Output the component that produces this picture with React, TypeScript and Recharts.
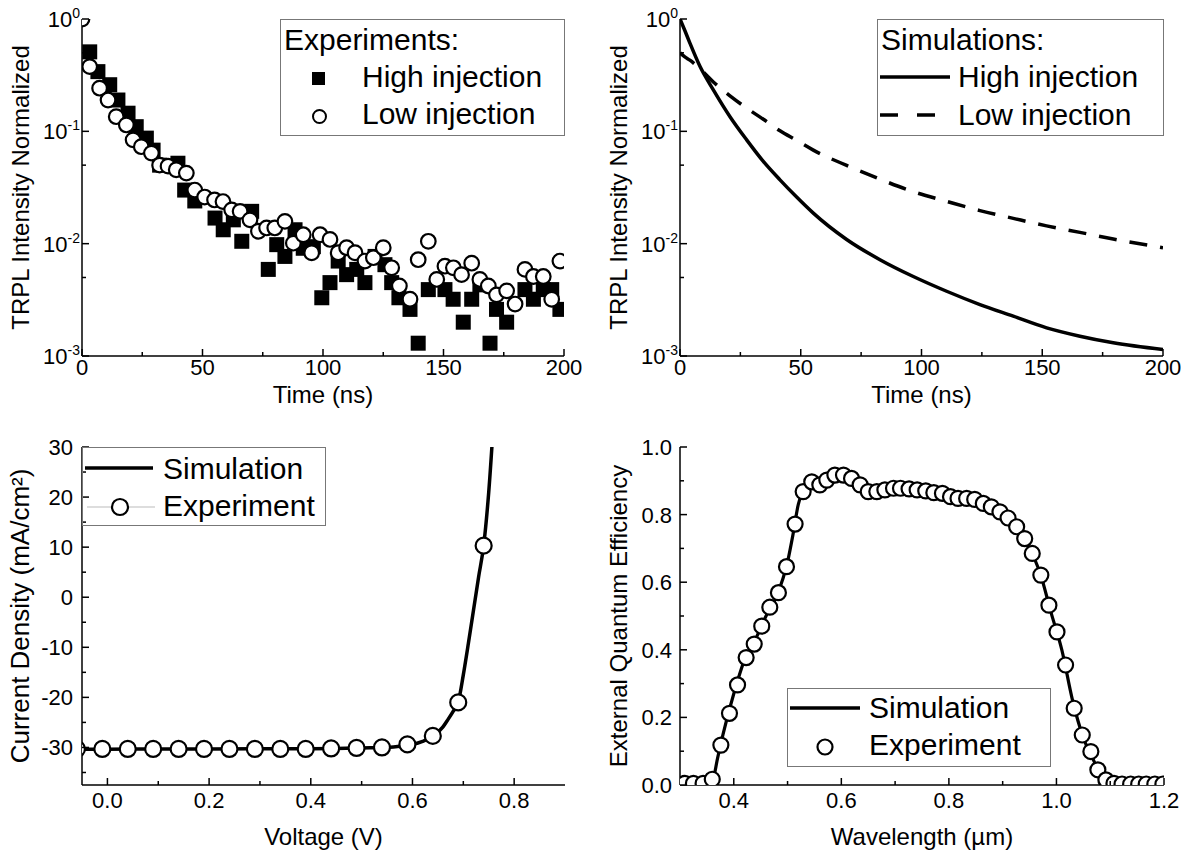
import React from "react";
import { ComposedChart, ScatterChart, LineChart, Line, Scatter, XAxis, YAxis, Label } from "recharts";

const FONT = '"Liberation Sans", Arial, Helvetica, sans-serif';

// TRPL experiments (top left)
const expHighTime = [3.2, 6.6, 11.5, 14.9, 19.1, 22.5, 26.7, 29.5, 32.2, 39.8, 42.6, 46.8, 55.2, 58.6, 62.8, 66.3, 70.4, 77.3, 80.8, 84.2, 88.4, 91.8, 96, 99.5, 102.9, 106.3, 109.8, 114, 117.4, 121.6, 125.7, 128.5, 131.5, 136.1, 139.5, 143.7, 150.6, 154, 158.2, 161.7, 165.1, 169.3, 172, 176.2, 183.8, 187.3, 191.4, 194.9, 198.3];
const expHighSignal = [0.51, 0.34, 0.26, 0.19, 0.145, 0.11, 0.087, 0.068, 0.05, 0.052, 0.03, 0.024, 0.0169, 0.0133, 0.0163, 0.0105, 0.0194, 0.0059, 0.0098, 0.0077, 0.0133, 0.0091, 0.0094, 0.0033, 0.0045, 0.007, 0.0053, 0.0059, 0.0045, 0.0077, 0.0065, 0.0045, 0.0033, 0.0026, 0.0013, 0.0039, 0.0039, 0.0032, 0.002, 0.0032, 0.0043, 0.0013, 0.0026, 0.002, 0.0039, 0.0032, 0.0039, 0.0039, 0.0026];
const expLowTime = [0, 3.2, 7.3, 10.8, 14.2, 18.4, 21.2, 24.6, 28.8, 32.2, 35.7, 39.1, 43.3, 46.8, 50.9, 55, 58.5, 62.1, 65.6, 69.7, 73.2, 76.6, 80, 84.2, 87.7, 91.8, 95.3, 98.8, 102.9, 106.3, 109.8, 113.3, 117.4, 120.9, 125, 128.5, 131.7, 136.1, 139.5, 143.7, 147.2, 150.6, 154.1, 157.5, 161.7, 165.1, 168.6, 172, 176.2, 179.7, 183.8, 187.3, 191.4, 194.9, 198.3];
const expLowSignal = [1, 0.377, 0.242, 0.19, 0.135, 0.114, 0.084, 0.073, 0.064, 0.05, 0.049, 0.0455, 0.0425, 0.03, 0.026, 0.0245, 0.0237, 0.02, 0.0194, 0.0163, 0.0129, 0.0138, 0.0138, 0.0158, 0.0101, 0.012, 0.0083, 0.012, 0.0109, 0.0083, 0.0092, 0.0083, 0.007, 0.0075, 0.0092, 0.0061, 0.0042, 0.0032, 0.0072, 0.0105, 0.0048, 0.0063, 0.0061, 0.0053, 0.0067, 0.0048, 0.0042, 0.0035, 0.0038, 0.0029, 0.0059, 0.0051, 0.0051, 0.0032, 0.007];

// TRPL simulations (top right)
const simTime = [0, 2, 4.1, 8.3, 13.8, 20.7, 27.6, 34.5, 41.4, 48.3, 55.2, 69, 82.8, 96.6, 110.4, 124.2, 138, 151.8, 165.6, 179.4, 200];
const simHighSignal = [1, 0.79, 0.61, 0.377, 0.234, 0.135, 0.084, 0.054, 0.037, 0.026, 0.0187, 0.0109, 0.0072, 0.0051, 0.00377, 0.00287, 0.00226, 0.00178, 0.0015, 0.00131, 0.00114];
const simLowSignal = [0.5, 0.46, 0.43, 0.36, 0.275, 0.207, 0.161, 0.128, 0.101, 0.083, 0.068, 0.0497, 0.0375, 0.029, 0.0238, 0.0197, 0.0168, 0.0144, 0.0126, 0.011, 0.0092];

// J-V (bottom left)
const jvSimVoltage = [-0.05, 0, 0.1, 0.2, 0.3, 0.4, 0.45, 0.5, 0.55, 0.58, 0.6, 0.62, 0.64, 0.66, 0.67, 0.68, 0.69, 0.7, 0.71, 0.72, 0.73, 0.74, 0.75, 0.76];
const jvSimCurrent = [-30.35, -30.35, -30.3, -30.3, -30.28, -30.25, -30.2, -30.1, -30.0, -29.7, -29.4, -28.8, -27.8, -25.9, -24.4, -22.8, -21.0, -15.5, -9.2, -2.6, 4.0, 10.3, 21, 36];
const jvExpVoltage = [-0.06, -0.01, 0.04, 0.09, 0.14, 0.19, 0.24, 0.29, 0.34, 0.39, 0.44, 0.49, 0.54, 0.59, 0.64, 0.69, 0.74];
const jvExpCurrent = [-30.3, -30.3, -30.3, -30.3, -30.3, -30.3, -30.3, -30.3, -30.3, -30.3, -30.2, -30.1, -30.0, -29.4, -27.7, -21.0, 10.3];

// EQE (bottom right)
const eqeSimWavelength = [0.3, 0.35, 0.36, 0.37, 0.38, 0.4, 0.42, 0.44, 0.46, 0.48, 0.5, 0.51, 0.52, 0.53, 0.55, 0.57, 0.59, 0.61, 0.63, 0.65, 0.67, 0.7, 0.73, 0.76, 0.79, 0.82, 0.85, 0.87, 0.89, 0.91, 0.93, 0.95, 0.97, 0.99, 1.01, 1.03, 1.05, 1.07, 1.085, 1.1, 1.2];
const eqeSimValue = [0, 0, 0.01, 0.08, 0.15, 0.27, 0.37, 0.43, 0.5, 0.56, 0.66, 0.74, 0.83, 0.87, 0.89, 0.9, 0.915, 0.915, 0.895, 0.87, 0.87, 0.877, 0.875, 0.87, 0.862, 0.848, 0.845, 0.83, 0.81, 0.79, 0.755, 0.7, 0.625, 0.51, 0.4, 0.25, 0.14, 0.07, 0.02, 0, 0];
const eqeExpWavelength = [0.309, 0.325, 0.343, 0.36, 0.376, 0.392, 0.407, 0.423, 0.438, 0.452, 0.467, 0.483, 0.498, 0.514, 0.529, 0.545, 0.56, 0.573, 0.588, 0.604, 0.619, 0.635, 0.65, 0.666, 0.681, 0.697, 0.71, 0.726, 0.741, 0.757, 0.772, 0.788, 0.803, 0.817, 0.833, 0.848, 0.864, 0.879, 0.895, 0.91, 0.926, 0.941, 0.955, 0.971, 0.986, 1.001, 1.017, 1.033, 1.048, 1.064, 1.077, 1.092, 1.107, 1.122, 1.138, 1.153, 1.167, 1.183, 1.198];
const eqeExpValue = [0.005, 0.005, 0.005, 0.017, 0.118, 0.212, 0.296, 0.377, 0.417, 0.47, 0.526, 0.569, 0.646, 0.772, 0.868, 0.897, 0.888, 0.902, 0.917, 0.917, 0.907, 0.888, 0.868, 0.868, 0.873, 0.878, 0.878, 0.876, 0.873, 0.87, 0.865, 0.863, 0.853, 0.848, 0.848, 0.845, 0.833, 0.823, 0.808, 0.79, 0.764, 0.729, 0.685, 0.621, 0.532, 0.453, 0.355, 0.227, 0.148, 0.099, 0.045, 0.015, 0.005, 0.003, 0.003, 0.003, 0.003, 0.003, 0.003];

// ticks
const timeTicks = [0, 25, 50, 75, 100, 125, 150, 175, 200];
const timeLabels = [0, 50, 100, 150, 200];
const logTicks = [0.001, 0.005, 0.01, 0.05, 0.1, 0.5, 1];
const logLabels = [0.001, 0.01, 0.1, 1];
const voltTicks = [0, 0.1, 0.2, 0.3, 0.4, 0.5, 0.6, 0.7, 0.8];
const voltLabels = [0, 0.2, 0.4, 0.6, 0.8];
const currentTicks = [-35, -30, -25, -20, -15, -10, -5, 0, 5, 10, 15, 20, 25, 30];
const currentLabels = [-30, -20, -10, 0, 10, 20, 30];
const waveTicks = [0.4, 0.5, 0.6, 0.7, 0.8, 0.9, 1.0, 1.1, 1.2];
const waveLabels = [0.4, 0.6, 0.8, 1.0, 1.2];
const eqeTicks = [0, 0.1, 0.2, 0.3, 0.4, 0.5, 0.6, 0.7, 0.8, 0.9, 1.0];
const eqeLabels = [0, 0.2, 0.4, 0.6, 0.8, 1.0];

const zip = (xs: number[], ys: number[]) => xs.map((x, i) => ({ x, y: ys[i] }));

const frame = { stroke: "#000", strokeWidth: 1.5 };
const TICK_FONT = 22;
const TITLE_FONT = 24;
const LEGEND_FONT = 30;

type Side = "bottom" | "top" | "left" | "right";

const plain = (v: number) => String(v);
const oneDecimal = (v: number) => v.toFixed(1);
const power = (v: number) => (
  <>
    <tspan>10</tspan>
    <tspan dy={-9} fontSize={14}>{Math.round(Math.log10(v))}</tspan>
  </>
);

function tickRenderer(side: Side, majors: number[], format?: (v: number) => React.ReactNode, gap = 8, drop = 23) {
  return (props: any) => {
    const { x, y, payload } = props;
    const v = payload.value as number;
    const major = majors.some((m) => Math.abs(m - v) < 1e-9);
    const len = major ? 7 : 4;
    let seg = { x1: x, y1: y, x2: x, y2: y };
    if (side === "bottom") seg = { x1: x, y1: y, x2: x, y2: y - len };
    if (side === "top") seg = { x1: x, y1: y, x2: x, y2: y + len };
    if (side === "left") seg = { x1: x, y1: y, x2: x + len, y2: y };
    if (side === "right") seg = { x1: x, y1: y, x2: x - len, y2: y };
    return (
      <g>
        <line {...seg} stroke="#000" strokeWidth={1.5} />
        {major && format && side === "bottom" && (
          <text x={x} y={y + drop} textAnchor="middle" fontSize={TICK_FONT} fontFamily={FONT} fill="#000">
            {format(v)}
          </text>
        )}
        {major && format && side === "left" && (
          <text x={x - gap} y={y + 8} textAnchor="end" fontSize={TICK_FONT} fontFamily={FONT} fill="#000">
            {format(v)}
          </text>
        )}
      </g>
    );
  };
}

const xTitle = (text: string, drop: number) => (props: any) => {
  const vb = props.viewBox;
  return (
    <text x={vb.x + vb.width / 2} y={vb.y + drop} textAnchor="middle" fontSize={TITLE_FONT} fontFamily={FONT} fill="#000">
      {text}
    </text>
  );
};

const yTitle = (text: string, x: number, size = TITLE_FONT) => (props: any) => {
  const vb = props.viewBox;
  const cy = vb.y + vb.height / 2;
  return (
    <text x={x} y={cy} transform={`rotate(-90, ${x}, ${cy})`} textAnchor="middle" fontSize={size} fontFamily={FONT} fill="#000">
      {text}
    </text>
  );
};

// mirrored top / right axes that only carry inward ticks
function mirrorAxes(xDomain: number[], xTicks: number[], xMajors: number[], yDomain: number[], yTicks: number[], yMajors: number[], log = false) {
  return [
    <XAxis key="top" xAxisId="top" orientation="top" type="number" domain={xDomain} ticks={xTicks} interval={0} allowDataOverflow height={0} tickSize={0} tickMargin={0} axisLine={frame} tickLine={false} tick={tickRenderer("top", xMajors)} />,
    <YAxis key="right" yAxisId="right" orientation="right" type="number" scale={log ? "log" : "auto"} domain={yDomain} ticks={yTicks} interval={0} allowDataOverflow width={0} tickSize={0} tickMargin={0} axisLine={frame} tickLine={false} tick={tickRenderer("right", yMajors)} />,
  ];
}

const square = (p: any) => <rect x={p.cx - 7.5} y={p.cy - 7.5} width={15} height={15} fill="#000" />;
const ring = (r: number) => (p: any) => <circle cx={p.cx} cy={p.cy} r={r} fill="#fff" stroke="#000" strokeWidth={2.2} />;

function LegendBox({ left, top, width, height, children }: { left: number; top: number; width: number; height: number; children: React.ReactNode }) {
  return (
    <svg style={{ position: "absolute", left, top, overflow: "visible" }} width={width} height={height} fontFamily={FONT} fontSize={LEGEND_FONT}>
      <rect x={0.5} y={0.5} width={width - 1} height={height - 1} fill="none" stroke="#777" strokeWidth={1} />
      {children}
    </svg>
  );
}

function TrplExperiments() {
  return (
    <ScatterChart width={593} height={427} margin={{ top: 19, right: 29, bottom: 0, left: 0 }}>
      <XAxis type="number" dataKey="x" domain={[0, 200]} ticks={timeTicks} interval={0} allowDataOverflow height={71} tickSize={0} tickMargin={0} axisLine={frame} tickLine={false} tick={tickRenderer("bottom", timeLabels, plain, 8, 19)}>
        <Label content={xTitle("Time (ns)", 47)} />
      </XAxis>
      <YAxis type="number" dataKey="y" scale="log" domain={[0.001, 1]} ticks={logTicks} interval={0} allowDataOverflow width={82} tickSize={0} tickMargin={0} axisLine={frame} tickLine={false} tick={tickRenderer("left", logLabels, power, 2)}>
        <Label content={yTitle("TRPL Intensity Normalized", 29)} />
      </YAxis>
      {mirrorAxes([0, 200], timeTicks, timeLabels, [0.001, 1], logTicks, logLabels, true)}
      <Scatter data={zip(expHighTime, expHighSignal)} shape={square} isAnimationActive={false} />
      <Scatter data={zip(expLowTime, expLowSignal)} shape={ring(7.3)} isAnimationActive={false} />
    </ScatterChart>
  );
}

function TrplSimulations() {
  const high = zip(simTime, simHighSignal);
  const low = zip(simTime, simLowSignal);
  return (
    <LineChart width={593} height={427} margin={{ top: 19, right: 23, bottom: 0, left: 0 }}>
      <XAxis type="number" dataKey="x" domain={[0, 200]} ticks={timeTicks} interval={0} allowDataOverflow height={71} tickSize={0} tickMargin={0} axisLine={frame} tickLine={false} tick={tickRenderer("bottom", timeLabels, plain, 8, 19)}>
        <Label content={xTitle("Time (ns)", 47)} />
      </XAxis>
      <YAxis type="number" dataKey="y" scale="log" domain={[0.001, 1]} ticks={logTicks} interval={0} allowDataOverflow width={87} tickSize={0} tickMargin={0} axisLine={frame} tickLine={false} tick={tickRenderer("left", logLabels, power, 2)}>
        <Label content={yTitle("TRPL Intensity Normalized", 34)} />
      </YAxis>
      {mirrorAxes([0, 200], timeTicks, timeLabels, [0.001, 1], logTicks, logLabels, true)}
      <Line data={low} dataKey="y" type="monotone" stroke="#000" strokeWidth={3.5} strokeDasharray="18 13" dot={false} isAnimationActive={false} />
      <Line data={high} dataKey="y" type="monotone" stroke="#000" strokeWidth={3.5} dot={false} isAnimationActive={false} />
    </LineChart>
  );
}

function JvCurve() {
  return (
    <ComposedChart width={593} height={427} margin={{ top: 20, right: 28, bottom: 0, left: 0 }}>
      <XAxis type="number" dataKey="x" domain={[-0.05, 0.9]} ticks={voltTicks} interval={0} allowDataOverflow height={69} tickSize={0} tickMargin={0} axisLine={frame} tickLine={false} tick={tickRenderer("bottom", voltLabels, oneDecimal)}>
        <Label content={xTitle("Voltage (V)", 60)} />
      </XAxis>
      <YAxis type="number" dataKey="y" domain={[-37.5, 30]} ticks={currentTicks} interval={0} allowDataOverflow width={82} tickSize={0} tickMargin={0} axisLine={frame} tickLine={false} tick={tickRenderer("left", currentLabels, plain, 9)}>
        <Label content={yTitle("Current Density (mA/cm²)", 29, 26)} />
      </YAxis>
      {mirrorAxes([-0.05, 0.9], voltTicks, voltLabels, [-37.5, 30], currentTicks, currentLabels)}
      <Line data={zip(jvSimVoltage, jvSimCurrent)} dataKey="y" type="monotone" stroke="#000" strokeWidth={3.5} dot={false} isAnimationActive={false} />
      <Scatter data={zip(jvExpVoltage, jvExpCurrent)} shape={ring(8)} isAnimationActive={false} />
    </ComposedChart>
  );
}

function EqeCurve() {
  return (
    <ComposedChart width={593} height={427} margin={{ top: 20, right: 22, bottom: 0, left: 0 }}>
      <XAxis type="number" dataKey="x" domain={[0.3, 1.2]} ticks={waveTicks} interval={0} allowDataOverflow height={69} tickSize={0} tickMargin={0} axisLine={frame} tickLine={false} tick={tickRenderer("bottom", waveLabels, oneDecimal)}>
        <Label content={xTitle("Wavelength (µm)", 60)} />
      </XAxis>
      <YAxis type="number" dataKey="y" domain={[0, 1]} ticks={eqeTicks} interval={0} allowDataOverflow width={87} tickSize={0} tickMargin={0} axisLine={frame} tickLine={false} tick={tickRenderer("left", eqeLabels, oneDecimal, 8)}>
        <Label content={yTitle("External Quantum Efficiency", 34)} />
      </YAxis>
      {mirrorAxes([0.3, 1.2], waveTicks, waveLabels, [0, 1], eqeTicks, eqeLabels)}
      <Line data={zip(eqeSimWavelength, eqeSimValue)} dataKey="y" type="monotone" stroke="#000" strokeWidth={3.2} dot={false} isAnimationActive={false} />
      <Scatter data={zip(eqeExpWavelength, eqeExpValue)} shape={ring(7.5)} isAnimationActive={false} />
    </ComposedChart>
  );
}

export default function App() {
  return (
    <div style={{ position: "absolute", left: 0, top: 0, width: 1186, height: 854, background: "#fff", fontFamily: FONT }}>
      <div style={{ position: "absolute", left: 0, top: 0 }}>
        <TrplExperiments />
      </div>
      <div style={{ position: "absolute", left: 593, top: 0 }}>
        <TrplSimulations />
      </div>
      <div style={{ position: "absolute", left: 0, top: 427 }}>
        <JvCurve />
      </div>
      <div style={{ position: "absolute", left: 593, top: 427 }}>
        <EqeCurve />
      </div>

      <LegendBox left={280} top={19} width={285} height={117}>
        <text x={4} y={31}>Experiments:</text>
        <rect x={32} y={53} width={13} height={13} fill="#000" />
        <text x={82} y={68}>High injection</text>
        <circle cx={39.5} cy={97.5} r={6.5} fill="#fff" stroke="#000" strokeWidth={2} />
        <text x={82} y={105}>Low injection</text>
      </LegendBox>

      <LegendBox left={877} top={19} width={287} height={117}>
        <text x={4} y={31}>Simulations:</text>
        <line x1={3} x2={73} y1={58} y2={58} stroke="#000" strokeWidth={3.5} />
        <text x={81} y={68}>High injection</text>
        <line x1={3} x2={58} y1={96} y2={96} stroke="#000" strokeWidth={3.5} strokeDasharray="18 19" />
        <text x={81} y={106}>Low injection</text>
      </LegendBox>

      <LegendBox left={82} top={447} width={244} height={79}>
        <line x1={3} x2={71} y1={21} y2={21} stroke="#000" strokeWidth={3.5} />
        <text x={81} y={32}>Simulation</text>
        <line x1={5} x2={73} y1={60} y2={60} stroke="#bbb" strokeWidth={1} />
        <circle cx={38} cy={60} r={8} fill="#fff" stroke="#000" strokeWidth={2.2} />
        <text x={81} y={69}>Experiment</text>
      </LegendBox>

      <LegendBox left={787} top={688} width={264} height={79}>
        <line x1={3} x2={73} y1={20} y2={20} stroke="#000" strokeWidth={3.5} />
        <text x={82} y={30}>Simulation</text>
        <circle cx={38} cy={59} r={7.5} fill="#fff" stroke="#000" strokeWidth={2.2} />
        <text x={82} y={67}>Experiment</text>
      </LegendBox>
    </div>
  );
}
